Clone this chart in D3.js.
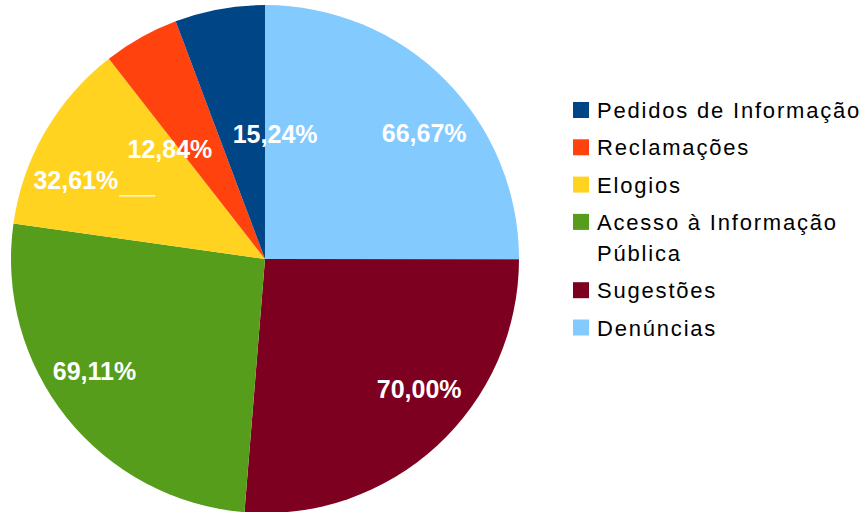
<!DOCTYPE html>
<html>
<head>
<meta charset="utf-8">
<script src="https://cdn.jsdelivr.net/npm/d3@7"></script>
<style>
  html, body { margin: 0; padding: 0; background: #fff; }
  svg { display: block; }
</style>
</head>
<body>
<svg id="chart" width="868" height="512"></svg>
<script>
// slices in drawing order (clockwise from 12 o'clock)
const categories = ["Denúncias", "Sugestões", "Acesso à Informação Pública", "Elogios", "Reclamações", "Pedidos de Informação"];
const values = [66.67, 70.00, 69.11, 32.61, 12.84, 15.24];
const valueLabels = ["66,67%", "70,00%", "69,11%", "32,61%", "12,84%", "15,24%"];
const colors = ["#83caff", "#7e0021", "#579d1c", "#ffd320", "#ff420e", "#004586"];

// labels that were nudged by hand in the original chart
const labelShift = [[0, 0], [0, 0], [0, 0], [-4, 13], [28, 43], [82, 46]];

const svg = d3.select("#chart");
const cx = 265, cy = 259, radius = 254;

const pie = d3.pie().value(d => d.value).sort(null);
const arc = d3.arc().innerRadius(0).outerRadius(radius);
const labelArc = d3.arc().innerRadius(165).outerRadius(165);

const data = categories.map((c, i) => ({ name: c, value: values[i], label: valueLabels[i], color: colors[i], shift: labelShift[i] }));
const arcs = pie(data);

const g = svg.append("g").attr("transform", `translate(${cx},${cy})`);

g.selectAll("path")
  .data(arcs)
  .enter()
  .append("path")
  .attr("d", arc)
  .attr("fill", d => d.data.color);

// value labels: text box corner sits on the label radius
const capH = 18;
arcs.forEach((d, i) => {
  const [px, py] = labelArc.centroid(d);
  const mid = (d.startAngle + d.endAngle) / 2;
  const right = Math.sin(mid) >= 0;
  const top = Math.cos(mid) >= 0;
  const x = px + d.data.shift[0];
  const y = (top ? py : py + capH) + d.data.shift[1];
  const t = g.append("text")
    .attr("x", x)
    .attr("y", y)
    .attr("text-anchor", right ? "start" : "end")
    .attr("font-family", "Liberation Sans, Arial, sans-serif")
    .attr("font-weight", "bold")
    .attr("font-size", 25)
    .attr("fill", "#fff")
    .text(d.data.label);
  if (d.data.name === "Elogios") {
    g.append("line")
      .attr("x1", x + 1).attr("x2", x + 37)
      .attr("y1", y + 6.5).attr("y2", y + 6.5)
      .attr("stroke", "#fff")
      .attr("stroke-width", 1.3);
  }
});

// legend, reversed order
const legendItems = data.slice().reverse();
const legend = svg.append("g");
const maxW = 272;
let extra = 0;
legendItems.forEach((d, i) => {
  const base = 118 + 37.3 * i + extra;
  legend.append("rect")
    .attr("x", 573).attr("y", base - 16)
    .attr("width", 16).attr("height", 16)
    .attr("fill", d.color);
  const t = legend.append("text")
    .attr("x", 597).attr("y", base)
    .attr("font-family", "Liberation Sans, Arial, sans-serif")
    .attr("font-size", 22)
    .attr("letter-spacing", 1.8)
    .attr("fill", "#000");
  // simple word wrap
  const words = d.name.split(" ");
  let line = [];
  let tspan = t.append("tspan").attr("x", 597);
  let lines = 0;
  words.forEach(w => {
    line.push(w);
    tspan.text(line.join(" "));
    if (tspan.node().getComputedTextLength() > maxW && line.length > 1) {
      line.pop();
      tspan.text(line.join(" "));
      line = [w];
      lines++;
      tspan = t.append("tspan").attr("x", 597).attr("dy", 31).text(w);
    }
  });
  extra += lines * 31;
});
</script>
</body>
</html>
